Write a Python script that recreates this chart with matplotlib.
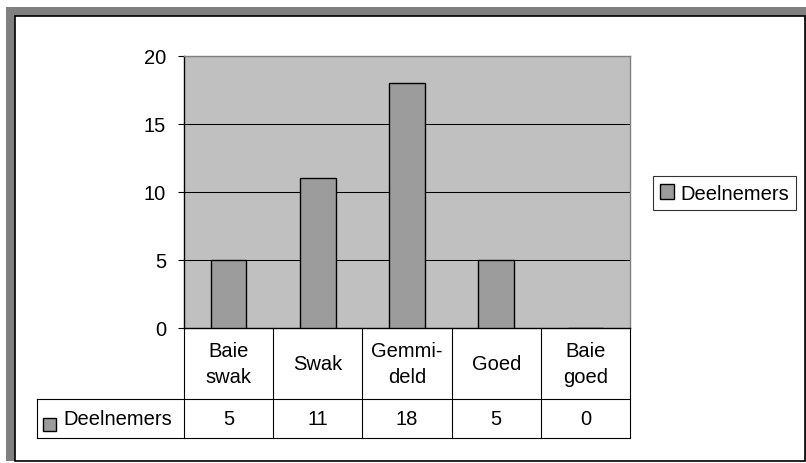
import matplotlib.pyplot as plt
from matplotlib.patches import Patch, Rectangle

plt.rcParams["font.family"] = ["Liberation Sans", "DejaVu Sans"]

categories = ["Baie\nswak", "Swak", "Gemmi-\ndeld", "Goed", "Baie\ngoed"]
deelnemers = [5, 11, 18, 5, 0]
series_name = "Deelnemers"
y_ticks = [0, 5, 10, 15, 20]

W, H = 806, 464
BAR_COLOR = "#9c9c9c"
PLOT_BG = "#c0c0c0"
FRAME_GRAY = "#808080"
FS = 14.5


def fig_box(x0, y0, x1, y1):
    """Pixel box (top-left origin) -> figure fraction [left, bottom, width, height]."""
    return [x0 / W, 1 - y1 / H, (x1 - x0) / W, (y1 - y0) / H]


fig = plt.figure(figsize=(W / 100, H / 100), dpi=100)
fig.patch.set_facecolor("white")

# grey chart frame with white inner area
l, b, w, h = fig_box(6, 8, 806, 462)
fig.add_artist(Rectangle((l, b), w, h, transform=fig.transFigure,
                         facecolor=FRAME_GRAY, edgecolor="none", zorder=0))
l, b, w, h = fig_box(15, 17, 805, 462)
fig.add_artist(Rectangle((l, b), w, h, transform=fig.transFigure,
                         facecolor="white", edgecolor="black", linewidth=1.2, zorder=0))

ax = fig.add_axes(fig_box(184, 57, 630, 329))
ax.set_facecolor(PLOT_BG)

x = list(range(len(categories)))
ax.bar(x, deelnemers, width=0.40, color=BAR_COLOR, edgecolor="black",
       linewidth=1.0, zorder=3)

ax.set_xlim(-0.5, len(categories) - 0.5)
ax.set_ylim(y_ticks[0], y_ticks[-1])
ax.set_yticks(y_ticks)
ax.set_xticks([])
ax.tick_params(axis="y", length=4.3, width=0.8, pad=8.5, labelsize=FS, colors="black")
ax.grid(True, axis="y", color="black", linewidth=0.75, zorder=1)

for side in ("top", "right"):
    ax.spines[side].set_color(FRAME_GRAY)
    ax.spines[side].set_linewidth(1.0)
for side in ("left", "bottom"):
    ax.spines[side].set_color("black")
    ax.spines[side].set_linewidth(1.0)

# data table under the axis
plot_h = 329 - 57
row1 = -(400 - 329) / plot_h
row2 = -(439 - 329) / plot_h
col_w = (630 - 184) / len(categories)
header_left = -0.5 - (184 - 37) / col_w
trans = ax.get_xaxis_transform()
line_kw = dict(color="black", linewidth=0.8, transform=trans, clip_on=False)

for i in range(len(categories) + 1):
    ax.plot([i - 0.5, i - 0.5], [0, row2], **line_kw)
ax.plot([header_left, header_left], [row1, row2], **line_kw)
ax.plot([header_left, len(categories) - 0.5], [row1, row1], **line_kw)
ax.plot([header_left, len(categories) - 0.5], [row2, row2], **line_kw)

for i, (cat, val) in enumerate(zip(categories, deelnemers)):
    ax.text(i, row1 / 2, cat, transform=trans, ha="center", va="center",
            fontsize=FS, linespacing=1.45)
    ax.text(i, (row1 + row2) / 2, str(val), transform=trans, ha="center",
            va="center", fontsize=FS)

# series key inside the table header cell
l, b, w, h = fig_box(43, 419, 56, 432)
fig.add_artist(Rectangle((l, b), w, h, transform=fig.transFigure,
                         facecolor=BAR_COLOR, edgecolor="black", linewidth=1.0))
fig.text(63 / W, 1 - 420 / H, series_name, ha="left", va="center", fontsize=FS)

leg = fig.legend(
    handles=[Patch(facecolor=BAR_COLOR, edgecolor="black", linewidth=1.0)],
    labels=[series_name],
    loc="center",
    bbox_to_anchor=(724.5 / W, 1 - 194 / H),
    fontsize=FS,
    fancybox=False,
    edgecolor="black",
    handlelength=0.7,
    handleheight=0.7,
    handletextpad=0.35,
    borderpad=0.35,
    borderaxespad=0,
)
leg.get_frame().set_linewidth(0.8)

fig.savefig("out.png", dpi=100)
